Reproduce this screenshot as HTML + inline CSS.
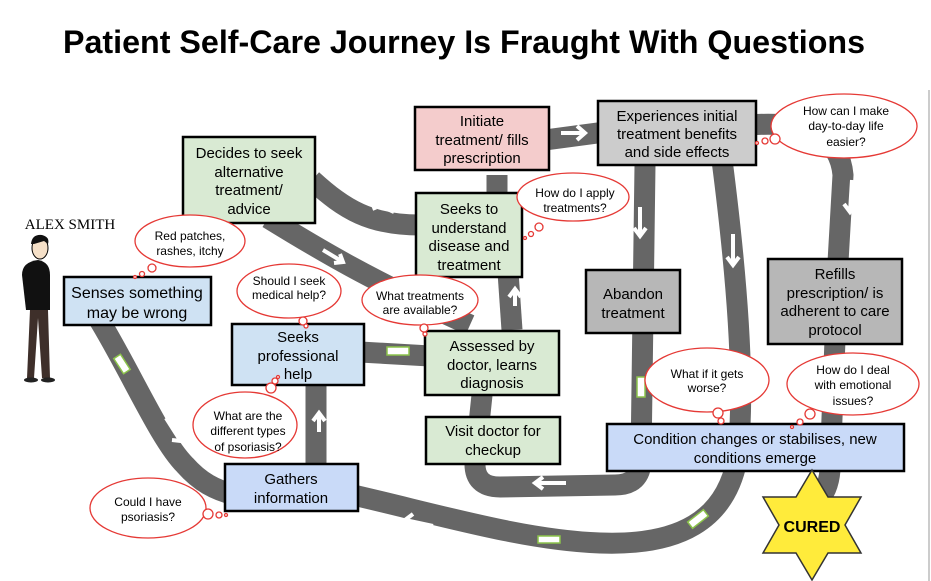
<!DOCTYPE html>
<html><head><meta charset="utf-8"><style>
body{margin:0;background:#fff}
svg{display:block}
text{font-family:"Liberation Sans",sans-serif}
</style></head><body>
<svg width="931" height="581" viewBox="0 0 931 581" xmlns="http://www.w3.org/2000/svg">
<rect width="931" height="581" fill="#fff"/>
<line x1="929" y1="90" x2="929" y2="581" stroke="#bbb" stroke-width="1.5"/>
<text x="464" y="53" text-anchor="middle" font-size="32" font-weight="bold" textLength="802" lengthAdjust="spacingAndGlyphs">Patient Self-Care Journey Is Fraught With Questions</text>

<g fill="none" stroke="#666" stroke-width="21" stroke-linejoin="round">
<path d="M98,318 C130,370 160,440 185,465 C200,482 215,490 235,495"/>
<path d="M340,492 C430,512 520,540 600,543 C680,546 725,520 737,460 C745,400 740,300 722,160"/>
<path d="M316,470 L316,380"/>
<path d="M360,352 L430,356"/>
<path d="M268,218 C320,250 370,280 470,325"/>
<path d="M420,225 C370,225 345,210 312,180"/>
<path d="M512,330 L508,272"/>
<path d="M497,175 L497,200"/>
<path d="M645,165 L641,460 Q641,485 615,485 L500,487 Q474,487 475,462 L482,395"/>
<path d="M545,140 L605,132"/>
<path d="M750,125 Q838,118 843,175 L838,262"/>
<path d="M835,340 L830,470 Q828,495 812,505"/>
</g>
<!-- lane marks -->
<g fill="#fff" stroke="#8bc34a" stroke-width="1.5">
<rect x="118" y="355" width="8" height="18" transform="rotate(-33 122 364)"/>
<rect x="387" y="347" width="22" height="8"/>
<rect x="538" y="536" width="22" height="7"/>
<rect x="688" y="515" width="20" height="8" transform="rotate(-38 698 519)"/>
<rect x="637" y="377" width="8" height="20"/>
</g>
<!-- arrows -->
<g fill="none" stroke="#fff" stroke-width="4" stroke-linecap="butt" stroke-linejoin="miter">
<path d="M166,418 L180,440 M172,440 L181,441 L182,431"/>
<path d="M319,432 L319,413 M313,421 L319,413 L325,421"/>
<path d="M433,526 L405,520 M413,514 L405,520 L411,527"/>
<path d="M394,212 L372,202 M377,196 L372,202 L375,210"/>
<path d="M323,250 L343,262 M334,263 L343,262 L340,254"/>
<path d="M515,306 L515,289 M509,297 L515,289 L521,297"/>
<path d="M561,133 L585,133 M577,126 L585,133 L577,140"/>
<path d="M640,207 L640,236 M634,228 L640,236 L646,228"/>
<path d="M733,234 L733,265 M727,257 L733,265 L739,257"/>
<path d="M852,180 L850,212 M844,204 L850,212 L856,204"/>
<path d="M566,483 L535,483 M543,477 L535,483 L543,489"/>
</g>

<!-- boxes -->
<g stroke="#000" stroke-width="2.5">
<rect x="183" y="137" width="132" height="86" fill="#d9ead3"/>
<rect x="64" y="277" width="147" height="48" fill="#cfe2f3"/>
<rect x="232" y="324" width="132" height="61" fill="#cfe2f3"/>
<rect x="225" y="464" width="133" height="47" fill="#c9daf8"/>
<rect x="415" y="107" width="134" height="63" fill="#f4cccc"/>
<rect x="416" y="193" width="106" height="84" fill="#d9ead3"/>
<rect x="425" y="331" width="134" height="64" fill="#d9ead3"/>
<rect x="426" y="417" width="134" height="47" fill="#d9ead3"/>
<rect x="598" y="101" width="158" height="64" fill="#cccccc"/>
<rect x="586" y="270" width="94" height="63" fill="#b7b7b7"/>
<rect x="768" y="259" width="134" height="85" fill="#b7b7b7"/>
<rect x="607" y="424" width="297" height="47" fill="#c9daf8"/>
</g>
<g font-size="15" text-anchor="middle" fill="#000">
<text x="249" y="158">Decides to seek</text><text x="249" y="177">alternative</text><text x="249" y="195">treatment/</text><text x="249" y="214">advice</text>
<text x="137" y="298" font-size="16">Senses something</text><text x="137" y="318" font-size="16">may be wrong</text>
<text x="298" y="342">Seeks</text><text x="298" y="361">professional</text><text x="298" y="379">help</text>
<text x="291" y="484">Gathers</text><text x="291" y="503">information</text>
<text x="482" y="126">Initiate</text><text x="482" y="145">treatment/ fills</text><text x="482" y="163">prescription</text>
<text x="469" y="214">Seeks to</text><text x="469" y="233">understand</text><text x="469" y="251">disease and</text><text x="469" y="270">treatment</text>
<text x="492" y="351">Assessed by</text><text x="492" y="370">doctor, learns</text><text x="492" y="388">diagnosis</text>
<text x="493" y="436">Visit doctor for</text><text x="493" y="455">checkup</text>
<text x="677" y="121">Experiences initial</text><text x="677" y="139">treatment benefits</text><text x="677" y="157">and side effects</text>
<text x="633" y="299">Abandon</text><text x="633" y="318">treatment</text>
<text x="835" y="279">Refills</text><text x="835" y="298">prescription/ is</text><text x="835" y="316">adherent to care</text><text x="835" y="335">protocol</text>
<text x="755" y="444">Condition changes or stabilises, new</text><text x="755" y="463">conditions emerge</text>
</g>

<!-- star (hexagram) -->
<polygon points="812,470 828,497 861,497 845,525 861,553 828,553 812,580 796,553 763,553 779,525 763,497 796,497" fill="#ffeb3b" stroke="#333" stroke-width="1.5"/>
<text x="812" y="532" text-anchor="middle" font-size="16" font-weight="bold">CURED</text>

<!-- clouds -->
<g fill="#fff" stroke="#e53935" stroke-width="1.3">
<ellipse cx="190" cy="241" rx="55" ry="26"/><circle cx="152" cy="268" r="4"/><circle cx="142" cy="274" r="2.5"/><circle cx="135" cy="277" r="1.5"/>
<ellipse cx="289" cy="291" rx="52" ry="27"/><circle cx="303" cy="321" r="4"/><circle cx="306" cy="326" r="2"/>
<ellipse cx="420" cy="300" rx="58" ry="25"/><circle cx="424" cy="328" r="4"/><circle cx="425" cy="334" r="2"/>
<ellipse cx="245" cy="425" rx="52" ry="33"/><circle cx="271" cy="388" r="5"/><circle cx="275" cy="381" r="3"/><circle cx="278" cy="377" r="1.5"/>
<ellipse cx="148" cy="508" rx="58" ry="30"/><circle cx="208" cy="514" r="5"/><circle cx="219" cy="515" r="3"/><circle cx="226" cy="515" r="1.5"/>
<ellipse cx="573" cy="197" rx="56" ry="24"/><circle cx="539" cy="227" r="4"/><circle cx="531" cy="234" r="2.5"/><circle cx="525" cy="238" r="1.5"/>
<ellipse cx="844" cy="126" rx="73" ry="32"/><circle cx="775" cy="139" r="5"/><circle cx="765" cy="141" r="3"/><circle cx="757" cy="143" r="1.5"/>
<ellipse cx="707" cy="380" rx="62" ry="32"/><circle cx="718" cy="413" r="5"/><circle cx="721" cy="421" r="3"/>
<ellipse cx="853" cy="384" rx="66" ry="31"/><circle cx="810" cy="414" r="5"/><circle cx="800" cy="422" r="3"/><circle cx="792" cy="427" r="1.5"/>
</g>
<g font-size="12" text-anchor="middle" fill="#000">
<text x="190" y="240">Red patches,</text><text x="190" y="255">rashes, itchy</text>
<text x="289" y="285">Should I seek</text><text x="289" y="299">medical help?</text>
<text x="420" y="300">What treatments</text><text x="420" y="314">are available?</text>
<text x="248" y="420">What are the</text><text x="248" y="435">different types</text><text x="248" y="451">of psoriasis?</text>
<text x="148" y="506">Could I have</text><text x="148" y="521">psoriasis?</text>
<text x="575" y="197">How do I apply</text><text x="575" y="212">treatments?</text>
<text x="846" y="115">How can I make</text><text x="846" y="130">day-to-day life</text><text x="846" y="146">easier?</text>
<text x="707" y="378">What if it gets</text><text x="707" y="392">worse?</text>
<text x="853" y="374">How do I deal</text><text x="853" y="389">with emotional</text><text x="853" y="405">issues?</text>
</g>

<!-- Alex -->
<text x="70" y="229" text-anchor="middle" font-size="15" style="font-family:'Liberation Serif',serif">ALEX SMITH</text>
<g>
<ellipse cx="40" cy="248" rx="8" ry="11" fill="#f5e0c8" stroke="#000"/>
<path d="M31,244 Q32,234 42,235 Q50,237 48,244 L44,241 L34,244Z" fill="#111"/>
<path d="M22,275 Q22,262 38,260 Q50,262 50,275 L50,310 L26,310 Z" fill="#111"/>
<path d="M30,310 L27,378 L34,378 L38,318 L42,378 L50,378 L48,310Z" fill="#3e2f2a"/>
<ellipse cx="31" cy="380" rx="7" ry="2.5" fill="#222"/><ellipse cx="48" cy="380" rx="7" ry="2.5" fill="#222"/>
</g>
</svg>
</body></html>
